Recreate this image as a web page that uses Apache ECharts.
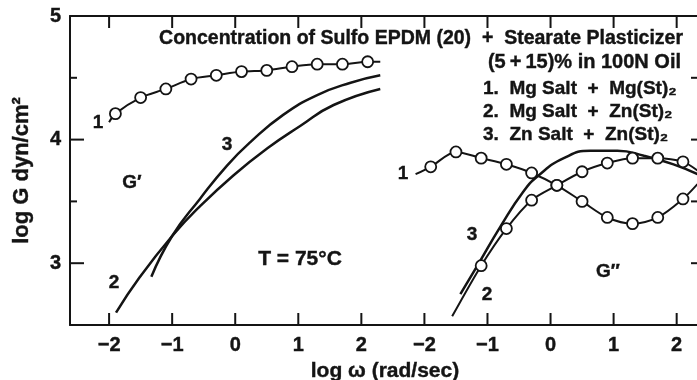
<!DOCTYPE html>
<html>
<head>
<meta charset="utf-8">
<script src="https://cdn.jsdelivr.net/npm/echarts@6/dist/echarts.min.js"></script>
<style>
  html, body { margin: 0; padding: 0; background: #fff; }
  #chart { width: 697px; height: 380px; }
</style>
</head>
<body>
<div id="chart"></div>
<script>
// right panel (G'') is drawn on the same x axis, shifted by 5 log units
const SHIFT = 5;
const xTicks = [-2, -1, 0, 1, 2];
const yMajorTicks = [3, 4];
const yMinorTicks = [3.5, 4.5];
const yLabels = [3, 4, 5];

// G' panel
const g1LeftX = [-2.0, -1.9, -1.5, -1.1, -0.7, -0.3, 0.1, 0.5, 0.9, 1.3, 1.7, 2.1, 2.3];
const g1LeftY = [4.14, 4.21, 4.34, 4.41, 4.49, 4.52, 4.55, 4.56, 4.59, 4.61, 4.61, 4.63, 4.63];
const g2LeftX = [-1.89, -1.51, -1.0, -0.56, -0.03, 0.51, 1.03, 1.56, 2.3];
const g2LeftY = [2.60, 2.89, 3.22, 3.46, 3.71, 3.93, 4.11, 4.28, 4.41];
const g3LeftX = [-1.33, -1.0, -0.56, -0.13, 0.24, 0.76, 1.30, 1.83, 2.3];
const g3LeftY = [2.89, 3.22, 3.52, 3.79, 3.98, 4.20, 4.36, 4.46, 4.52];

// G'' panel
const g1RightX = [-2.14, -1.9, -1.5, -1.1, -0.7, -0.3, 0.1, 0.5, 0.9, 1.3, 1.7, 2.1, 2.33];
const g1RightY = [3.72, 3.78, 3.90, 3.85, 3.80, 3.73, 3.63, 3.50, 3.37, 3.32, 3.37, 3.52, 3.64];
const g2RightX = [-1.56, -1.1, -0.7, -0.3, 0.1, 0.5, 0.9, 1.3, 1.7, 2.1, 2.33];
const g2RightY = [2.57, 2.98, 3.28, 3.51, 3.63, 3.74, 3.81, 3.85, 3.85, 3.82, 3.75];
const g3RightX = [-1.43, -1.16, -0.79, -0.43, -0.19, 0.21, 0.63, 1.06, 1.48, 1.95, 2.33];
const g3RightY = [2.75, 2.98, 3.30, 3.58, 3.71, 3.85, 3.91, 3.91, 3.87, 3.80, 3.72];

const INK = '#141414';
const FONT = '"Liberation Sans", Arial, Helvetica, sans-serif';
const X_MIN = -2.62, X_MAX = 7.37, Y_MIN = 2.5, Y_MAX = 5;

function pts(xs, ys, shift) {
  return xs.map((x, i) => [x + shift, ys[i]]);
}

// circled line: first and last points are just line ends
function circled(xs, ys, shift) {
  return pts(xs, ys, shift).map((p, i, arr) =>
    (i === 0 || i === arr.length - 1) ? { value: p, symbol: 'none' } : { value: p });
}

function circleSeries(data) {
  return {
    type: 'line', data, smooth: 0.3, symbol: 'circle', symbolSize: 11, showSymbol: true,
    lineStyle: { color: INK, width: 2 },
    itemStyle: { color: '#fff', borderColor: INK, borderWidth: 1.8 },
    z: 4, silent: true
  };
}

function plainSeries(data) {
  return {
    type: 'line', data, smooth: 0.5, showSymbol: false,
    lineStyle: { color: INK, width: 2.5 }, z: 3, silent: true
  };
}

function fmtX(v) {
  const r = v > 2.5 ? v - SHIFT : v;
  return r < 0 ? '\u2212' + Math.abs(r) : String(r);
}

const tickPos = xTicks.concat(xTicks.map(t => t + SHIFT));

function txt(text, x, y, size, align) {
  return {
    type: 'text', x, y, silent: true,
    style: {
      text, font: 'bold ' + size + 'px ' + FONT, fill: INK,
      stroke: INK, lineWidth: 0.4,
      align: align || 'center', textAlign: align || 'center',
      verticalAlign: 'middle', textVerticalAlign: 'middle'
    }
  };
}

function seg(x1, y1, x2, y2) {
  return {
    type: 'line', silent: true, z: 100,
    shape: { x1, y1, x2, y2 },
    style: { stroke: INK, lineWidth: 2 }
  };
}

const labelFont = { fontFamily: FONT, fontWeight: 'bold', color: INK, textBorderColor: INK, textBorderWidth: 0.4 };
const lineStyle = { color: INK, width: 2 };

const chart = echarts.init(document.getElementById('chart'), null, { renderer: 'canvas' });

chart.setOption({
  animation: false,
  backgroundColor: '#fff',
  grid: { left: 70, right: -3, top: 16, bottom: 55, outerBoundsMode: 'none' },
  xAxis: [
    {
      type: 'value', min: X_MIN, max: X_MAX, position: 'bottom',
      name: 'log \u03c9 (rad/sec)', nameLocation: 'middle', nameGap: 32,
      nameTextStyle: Object.assign({ fontSize: 21 }, labelFont),
      axisLine: { show: true, onZero: false, lineStyle },
      axisTick: { show: false },
      axisLabel: Object.assign({ customValues: tickPos, formatter: fmtX, margin: 10, fontSize: 20 }, labelFont),
      splitLine: { show: false }
    },
    {
      type: 'value', min: X_MIN, max: X_MAX, position: 'top',
      axisLine: { show: true, onZero: false, lineStyle },
      axisTick: { show: false }, axisLabel: { show: false }, splitLine: { show: false }
    }
  ],
  yAxis: [
    {
      type: 'value', min: Y_MIN, max: Y_MAX, position: 'left',
      name: 'log G dyn/cm\u00b2', nameLocation: 'middle', nameGap: 37,
      nameTextStyle: Object.assign({ fontSize: 22 }, labelFont),
      axisLine: { show: true, onZero: false, lineStyle },
      axisTick: { show: false },
      axisLabel: Object.assign({ customValues: yLabels, margin: 9, fontSize: 20 }, labelFont),
      splitLine: { show: false }
    },
    {
      type: 'value', min: Y_MIN, max: Y_MAX, position: 'right',
      axisLine: { show: true, onZero: false, lineStyle },
      axisTick: { show: false }, axisLabel: { show: false }, splitLine: { show: false }
    }
  ],
  series: [
    circleSeries(circled(g1LeftX, g1LeftY, 0)),
    plainSeries(pts(g2LeftX, g2LeftY, 0)),
    plainSeries(pts(g3LeftX, g3LeftY, 0)),
    circleSeries(circled(g1RightX, g1RightY, SHIFT)),
    circleSeries(circled(g2RightX, g2RightY, SHIFT)),
    plainSeries(pts(g3RightX, g3RightY, SHIFT))
  ]
});

// inward ticks on all four sides, placed through the grid's scales
const toPx = (x, y) => chart.convertToPixel({ gridIndex: 0 }, [x, y]);
const [xL, yB] = toPx(X_MIN, Y_MIN);
const [xR, yT] = toPx(X_MAX, Y_MAX);
const ticks = [];
tickPos.forEach(v => {
  const x = toPx(v, Y_MIN)[0];
  ticks.push(seg(x, yB, x, yB - 12));
  ticks.push(seg(x, yT, x, yT + 12));
});
yMajorTicks.forEach(v => {
  const y = toPx(X_MIN, v)[1];
  ticks.push(seg(xL, y, xL + 14, y));
});
yMinorTicks.forEach(v => {
  const y = toPx(X_MIN, v)[1];
  ticks.push(seg(xL, y, xL + 7, y));
});
yMinorTicks.concat(yMajorTicks).forEach(v => {
  const y = toPx(X_MIN, v)[1];
  ticks.push(seg(xR, y, xR - 9, y));
});

chart.setOption({
  graphic: ticks.concat([
    txt('Concentration of Sulfo EPDM (20)  +  Stearate Plasticizer', 683, 39, 19.5, 'right'),
    txt('(5\u2009+\u200915)% in 100N Oil', 681, 62, 20, 'right'),
    txt('1.  Mg Salt  +  Mg(St)\u2082', 483, 89, 19, 'left'),
    txt('2.  Mg Salt  +  Zn(St)\u2082', 483, 112, 19, 'left'),
    txt('3.  Zn Salt  +  Zn(St)\u2082', 483, 135, 19, 'left'),
    txt('1', 98, 123, 19),
    txt('G\u2032', 132, 183, 19),
    txt('3', 227, 145, 19),
    txt('2', 114, 283, 19),
    txt('T = 75\u00b0C', 300, 259, 21),
    txt('1', 403, 174, 19),
    txt('3', 472, 235, 19),
    txt('2', 487, 295, 19),
    txt('G\u2033', 608, 272, 19)
  ])
});
</script>
</body>
</html>
